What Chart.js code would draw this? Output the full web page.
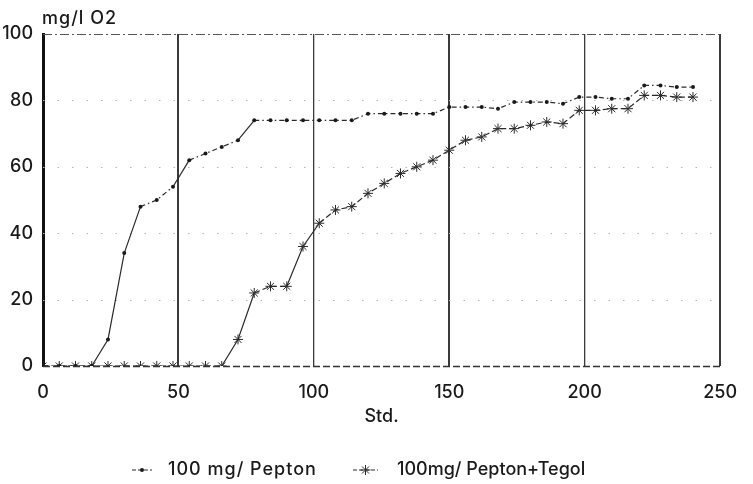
<!DOCTYPE html>
<html>
<head>
<meta charset="utf-8">
<title>Sauerstoffverbrauch</title>
<script src="https://cdn.jsdelivr.net/npm/chart.js@4.4.1/dist/chart.umd.min.js"></script>
<style>
  html, body { margin: 0; padding: 0; background: #fff; }
  #wrap { width: 753px; height: 484px; position: relative; }
</style>
</head>
<body>
<div id="wrap"><canvas id="o2-chart"></canvas></div>
<script>
(function () {
  'use strict';

  // Std. (hours) at which both samples were read
  const HOURS = [
    0, 6, 12, 18, 24, 30, 36, 42, 48, 54,
    60, 66, 72, 78, 84, 90, 96, 102, 108, 114,
    120, 126, 132, 138, 144, 150, 156, 162, 168, 174,
    180, 186, 192, 198, 204, 210, 216, 222, 228, 234,
    240
  ];

  // mg/l O2
  const PEPTON = [
    0, 0, 0, 0, 8, 34, 48, 50, 54, 62,
    64, 66, 68, 74, 74, 74, 74, 74, 74, 74,
    76, 76, 76, 76, 76, 78, 78, 78, 77.5, 79.5,
    79.5, 79.5, 79, 81, 81, 80.5, 80.5, 84.5, 84.5, 84,
    84
  ];

  const PEPTON_TEGOL = [
    0, 0, 0, 0, 0, 0, 0, 0, 0, 0,
    0, 0, 8, 22, 24, 24, 36, 43, 47, 48,
    52, 55, 58, 60, 62, 65, 68, 69, 71.5, 71.5,
    72.5, 73.5, 73, 77, 77, 77.5, 77.5, 81.5, 81.5, 81,
    81
  ];

  const SERIES_LABELS = ['100 mg/ Pepton', '100mg/ Pepton+Tegol'];
  const X_TICKS = [0, 50, 100, 150, 200, 250];
  const Y_TICKS = [0, 20, 40, 60, 80, 100];

  const INK = '#1a1a1a';
  const FONT = 'Inter, "Liberation Sans", Arial, sans-serif';
  const WEIGHT = 500;

  const toPoints = (values) => HOURS.map((h, i) => ({ x: h, y: values[i] }));

  // plotter look: steep strokes come out solid, shallow ones broken
  function plotterDash(pattern) {
    return (ctx) => {
      const dx = Math.abs(ctx.p1.x - ctx.p0.x);
      const dy = Math.abs(ctx.p1.y - ctx.p0.y);
      return dy > dx * 1.1 ? [] : pattern;
    };
  }

  // horizontal rules: dark dashed frame at 0 and 100, faint dots between
  const paperGrid = {
    id: 'paperGrid',
    beforeDatasetsDraw(chart) {
      const { ctx, chartArea: a, scales: { y } } = chart;
      ctx.save();
      y.ticks.forEach((t) => {
        const py = Math.round(y.getPixelForValue(t.value)) + 0.5;
        ctx.beginPath();
        if (t.value === 0) {
          ctx.strokeStyle = '#333';
          ctx.lineWidth = 1.3;
          ctx.setLineDash([7, 3]);
        } else if (t.value === 100) {
          ctx.strokeStyle = '#555';
          ctx.lineWidth = 1.2;
          ctx.setLineDash([9, 3, 2, 3]);
        } else {
          ctx.strokeStyle = '#b5b5b5';
          ctx.lineWidth = 1;
          ctx.setLineDash([1.5, 13]);
        }
        ctx.moveTo(a.left, py);
        ctx.lineTo(a.right, py);
        ctx.stroke();
      });
      ctx.restore();
    }
  };

  function markPoint(ctx, ds, x, y) {
    const opts = {
      pointStyle: ds.pointStyle,
      radius: ds.pointRadius,
      borderWidth: ds.pointBorderWidth,
      rotation: 0
    };
    if (Chart.helpers && Chart.helpers.drawPoint) {
      Chart.helpers.drawPoint(ctx, opts, x, y);
    } else {
      ctx.beginPath();
      ctx.arc(x, y, ds.pointRadius, 0, Math.PI * 2);
      ctx.fill();
    }
  }

  // y-axis caption and the legend row underneath
  const captions = {
    id: 'captions',
    afterDraw(chart) {
      const { ctx, chartArea: a } = chart;
      ctx.save();
      ctx.fillStyle = INK;
      ctx.font = WEIGHT + ' 18px ' + FONT;
      ctx.textBaseline = 'middle';
      ctx.textAlign = 'left';
      ctx.letterSpacing = '1px';
      ctx.fillText('mg/l O2', a.left - 1, 19);

      const rowY = 470;
      const starts = [132, 353];
      const spacing = ['1px', '0px'];
      chart.data.datasets.forEach((ds, i) => {
        const x0 = starts[i];
        const len = i === 0 ? 20 : 25;
        ctx.strokeStyle = ds.borderColor;
        ctx.fillStyle = ds.pointBackgroundColor;
        ctx.lineWidth = 1;
        ctx.setLineDash([4, 2]);
        ctx.beginPath();
        ctx.moveTo(x0, rowY);
        ctx.lineTo(x0 + len, rowY);
        ctx.stroke();
        ctx.setLineDash([]);
        ctx.lineWidth = ds.pointBorderWidth;
        markPoint(ctx, ds, x0 + len / 2, rowY);
        ctx.fillStyle = INK;
        ctx.letterSpacing = spacing[i];
        ctx.fillText(ds.label, x0 + len + (i === 0 ? 16 : 19), rowY);
      });
      ctx.restore();
    }
  };

  new Chart(document.getElementById('o2-chart'), {
    type: 'line',
    data: {
      datasets: [
        {
          label: SERIES_LABELS[0],
          data: toPoints(PEPTON),
          borderColor: '#2a2a2a',
          borderWidth: 1.2,
          pointStyle: 'circle',
          pointRadius: 2,
          pointBorderWidth: 0,
          pointBackgroundColor: '#1a1a1a',
          pointBorderColor: '#1a1a1a',
          segment: { borderDash: plotterDash([5, 3, 1.5, 3]) }
        },
        {
          label: SERIES_LABELS[1],
          data: toPoints(PEPTON_TEGOL),
          borderColor: '#2a2a2a',
          borderWidth: 1.2,
          pointStyle: 'star',
          pointRadius: 5,
          pointBorderWidth: 1,
          pointBackgroundColor: '#2a2a2a',
          pointBorderColor: '#2a2a2a',
          segment: { borderDash: plotterDash([6, 3]) }
        }
      ]
    },
    options: {
      responsive: true,
      maintainAspectRatio: false,
      animation: false,
      layout: { padding: { top: 34, right: 20, bottom: 0, left: 0 } },
      plugins: {
        legend: { display: false },
        tooltip: { enabled: false }
      },
      scales: {
        x: {
          type: 'linear',
          min: 0,
          max: 250,
          afterBuildTicks: (s) => { s.ticks = X_TICKS.map((v) => ({ value: v })); },
          afterFit: (s) => { s.height = 118; },
          grid: {
            drawTicks: false,
            color: '#3a3a3a',
            lineWidth: (c) => (c.tick && c.tick.value % 100 === 50) || (c.tick && c.tick.value === 250) ? 2 : 1.3
          },
          border: { display: false },
          ticks: {
            padding: 16,
            color: INK,
            font: { family: FONT, size: 18, weight: WEIGHT }
          },
          title: {
            display: true,
            text: 'Std.',
            color: INK,
            font: { family: FONT, size: 18, weight: WEIGHT },
            padding: { top: 0, bottom: 57 }
          }
        },
        y: {
          min: 0,
          max: 100,
          afterBuildTicks: (s) => { s.ticks = Y_TICKS.map((v) => ({ value: v })); },
          afterFit: (s) => { s.width = 43; },
          grid: { display: false, drawTicks: false },
          border: { display: true, color: '#111', width: 3 },
          ticks: {
            padding: 10,
            color: INK,
            font: { family: FONT, size: 18, weight: WEIGHT }
          }
        }
      }
    },
    plugins: [paperGrid, captions]
  });
})();
</script>
</body>
</html>
